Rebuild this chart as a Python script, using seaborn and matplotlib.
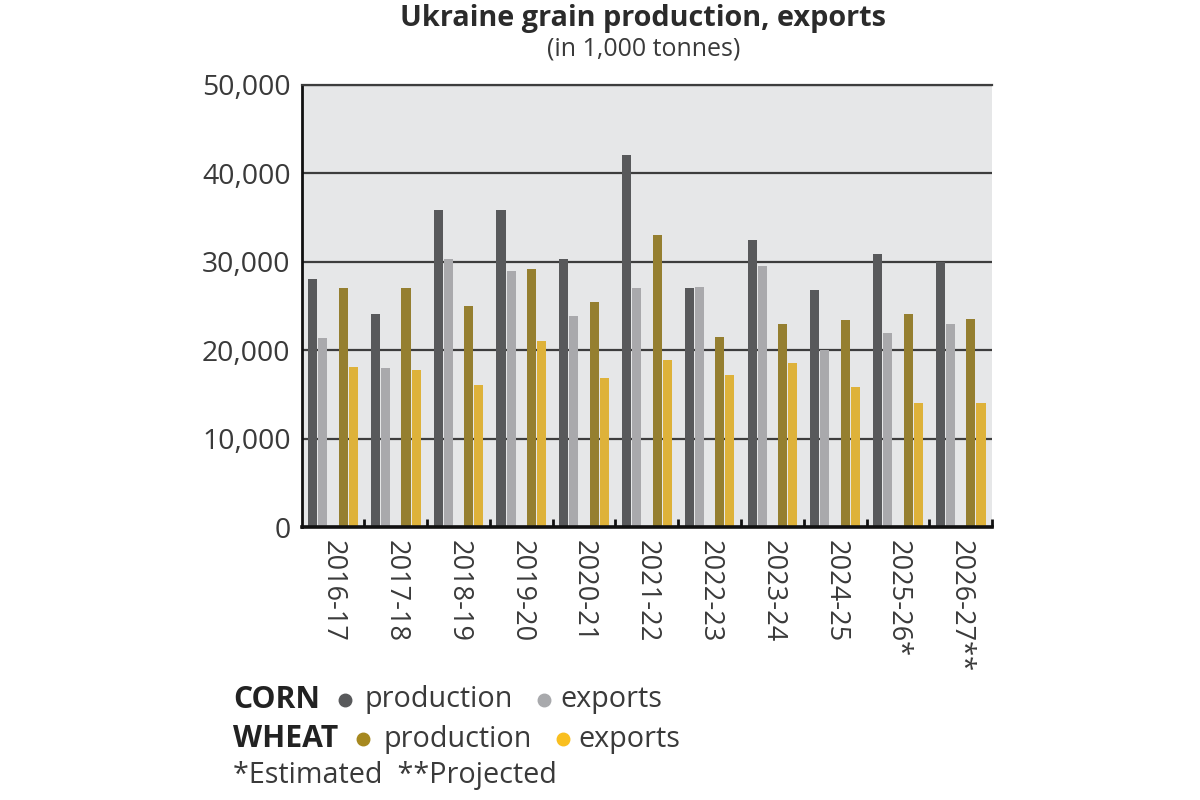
import matplotlib
matplotlib.use("Agg")
import matplotlib.pyplot as plt
from matplotlib.lines import Line2D
from matplotlib.ticker import FuncFormatter, FixedLocator
import seaborn as sns
import pandas as pd
import numpy as np

# data (1,000 tonnes)
seasons = ["2016-17", "2017-18", "2018-19", "2019-20", "2020-21", "2021-22",
           "2022-23", "2023-24", "2024-25", "2025-26*", "2026-27**"]
corn_production = [28000, 24100, 35800, 35900, 30300, 42100, 27000, 32500, 26800, 30900, 30000]
corn_exports = [21400, 18000, 30300, 28900, 23900, 27000, 27100, 29500, 20000, 22000, 23000]
wheat_production = [27000, 27000, 25000, 29200, 25400, 33000, 21500, 23000, 23400, 24100, 23500]
wheat_exports = [18100, 17800, 16100, 21100, 16900, 18900, 17200, 18600, 15800, 14000, 14000]

series = {
    "Corn production": corn_production,
    "Corn exports": corn_exports,
    "Wheat production": wheat_production,
    "Wheat exports": wheat_exports,
}
rows = []
for name, vals in series.items():
    for s, v in zip(seasons, vals):
        rows.append({"season": s, "series": name, "value": v})
df = pd.DataFrame(rows)

# an empty hue level keeps the gap between the corn pair and the wheat pair
hue_order = ["Corn production", "Corn exports", " ", "Wheat production", "Wheat exports"]
palette = {
    "Corn production": "#58595b",
    "Corn exports": "#a8a9ac",
    " ": "#ffffff",
    "Wheat production": "#a6881f",
    "Wheat exports": "#f9bf1f",
}

sns.set_theme(style="white")
plt.rcParams["font.family"] = ["Open Sans", "DejaVu Sans"]

text_col = "#3a3a3a"
fig = plt.figure(figsize=(12, 8), dpi=100)
ax = fig.add_axes([0.2514, 0.341, 0.5753, 0.553])
ax.set_facecolor("#e6e7e8")

sns.barplot(data=df, x="season", y="value", hue="series", hue_order=hue_order,
            order=seasons, palette=palette, width=0.81, gap=0.11,
            linewidth=0, errorbar=None, legend=False, ax=ax)

ax.set_xlim(-0.5, len(seasons) - 0.5)
ax.set_ylim(0, 50000)
ax.set_yticks(np.arange(0, 50001, 10000))
ax.yaxis.set_major_formatter(FuncFormatter(lambda v, p: f"{int(v):,}"))
ax.yaxis.grid(True, color="#3d3d3d", linewidth=1.6)
ax.xaxis.grid(False)
ax.set_axisbelow(True)
ax.set_xlabel("")
ax.set_ylabel("")

ax.spines["right"].set_visible(False)
ax.spines["top"].set_color("#3d3d3d")
ax.spines["top"].set_linewidth(1.6)
ax.spines["left"].set_color("#111111")
ax.spines["left"].set_linewidth(2)
ax.spines["bottom"].set_color("#111111")
ax.spines["bottom"].set_linewidth(2.6)

ax.tick_params(axis="y", length=0, pad=8, labelsize=20.4, labelcolor=text_col)
ax.tick_params(axis="x", which="major", length=0, pad=9, labelsize=19.5,
               labelcolor=text_col, labelrotation=-90)
ax.xaxis.set_minor_locator(FixedLocator(np.arange(0.5, len(seasons), 1.0)))
ax.tick_params(axis="x", which="minor", direction="in", length=5.5, width=2,
               color="#111111", bottom=True)
for lab in ax.get_xticklabels():
    lab.set_verticalalignment("top")
    lab.set_horizontalalignment("center")

# titles
fig.text(0.536, 0.977, "Ukraine grain production, exports", ha="center", va="center",
         fontsize=20.8, fontweight="bold", color="#2b2b2b")
fig.text(0.536, 0.939, "(in 1,000 tonnes)", ha="center", va="center",
         fontsize=18, color=text_col)

# custom legend below the chart, pieces placed one after another
renderer = fig.canvas.get_renderer()
fs = 20.7


def piece(x_px, y, s, bold=False):
    t = fig.text(x_px / 1200, y, s, va="center",
                 fontsize=fs + 1 if bold else fs,
                 fontweight="bold" if bold else "normal",
                 color="#222222" if bold else text_col)
    return t.get_window_extent(renderer).x1


def dot(x_px, y, color):
    fig.add_artist(Line2D([x_px / 1200], [y], marker="o", markersize=9, color=color,
                          linestyle="none", transform=fig.transFigure))


def legend_row(y, group, c_prod, c_exp):
    x = piece(233, y, group, bold=True)
    dot(x + 25, y, c_prod)
    x = piece(x + 45, y, "production")
    dot(x + 31, y, c_exp)
    piece(x + 47, y, "exports")


y1, y2, y3 = 1 - 700 / 800, 1 - 739 / 800, 1 - 775 / 800
legend_row(y1, "CORN", palette["Corn production"], palette["Corn exports"])
legend_row(y2, "WHEAT", palette["Wheat production"], palette["Wheat exports"])
piece(233, y3, "*Estimated  **Projected")

fig.savefig("out.png", dpi=100, facecolor="white")
